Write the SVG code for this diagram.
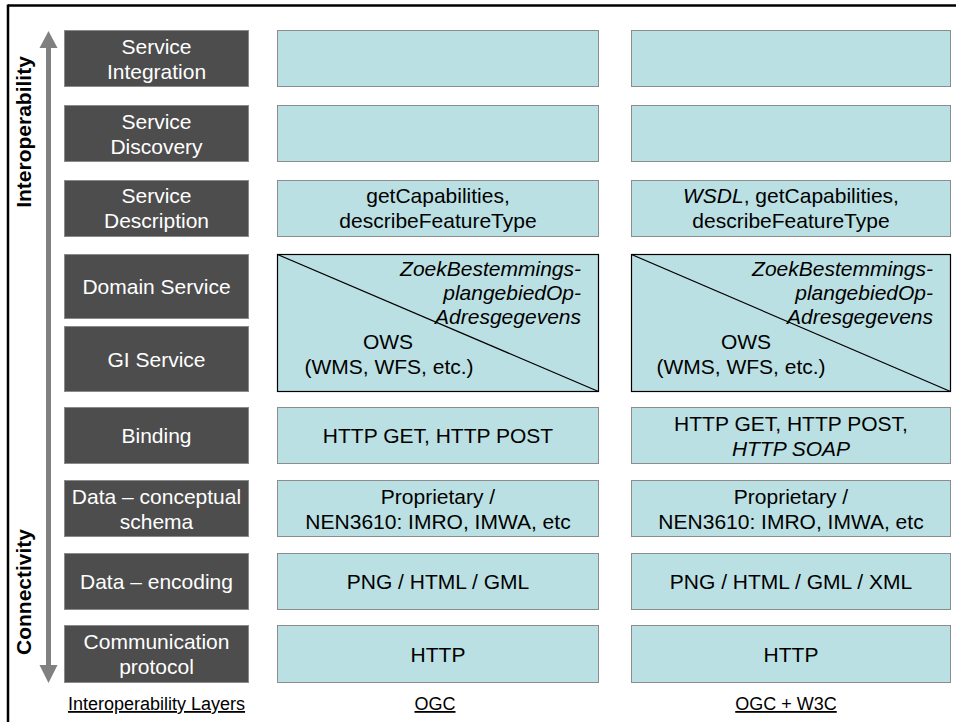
<svg xmlns="http://www.w3.org/2000/svg" width="956" height="722" viewBox="0 0 956 722">
<style>
text{font-family:"Liberation Sans",Arial,sans-serif;font-size:21px;text-anchor:middle}
.dk rect{fill:#4d4d4d;stroke:#8a8a8a;stroke-width:1}
.dk text{fill:#ffffff}
.bl rect{fill:#bbe0e3;stroke:#8c8c8c;stroke-width:1}
.bl text{fill:#000000}
.big rect{fill:#bbe0e3;stroke:#000000;stroke-width:1.2}
.big line{stroke:#000000;stroke-width:1.2}
.it{font-style:italic}
.r{text-anchor:end}
.side{font-weight:bold;fill:#000}
.foot{font-size:18px;text-decoration:underline;fill:#000}
</style>
<rect x="0" y="0" width="956" height="722" fill="#ffffff"/>
<g id="frame">
<line x1="8" y1="5.5" x2="956" y2="5.5" stroke="#000" stroke-width="2.5"/>
<line x1="8" y1="4.5" x2="8" y2="722" stroke="#000" stroke-width="2.5"/>
</g>
<g id="connectors">
<rect x="46" y="47" width="5" height="619" fill="#808080"/>
<polygon points="48.5,31 57.5,48 39.5,48" fill="#808080"/>
<polygon points="48.5,683 57.5,665 39.5,665" fill="#808080"/>
</g>
<g id="axis-labels">
<text class="side" transform="translate(31,132) rotate(-90)">Interoperability</text>
<text class="side" transform="translate(31,592) rotate(-90)">Connectivity</text>
</g>
<g id="layer-service-integration" class="dk"><rect x="64.5" y="30.5" width="184" height="56"/><text x="156.5" y="54">Service</text><text x="156.5" y="79">Integration</text></g>
<g id="layer-service-discovery" class="dk"><rect x="64.5" y="105.5" width="184" height="56"/><text x="156.5" y="129">Service</text><text x="156.5" y="154">Discovery</text></g>
<g id="layer-service-description" class="dk"><rect x="64.5" y="180.5" width="184" height="56"/><text x="156.5" y="203">Service</text><text x="156.5" y="228">Description</text></g>
<g id="layer-domain-service" class="dk"><rect x="64.5" y="254.5" width="184" height="64"/><text x="156.5" y="294">Domain Service</text></g>
<g id="layer-gi-service" class="dk"><rect x="64.5" y="326.5" width="184" height="65"/><text x="156.5" y="366.5">GI Service</text></g>
<g id="layer-binding" class="dk"><rect x="64.5" y="407.5" width="184" height="56"/><text x="156.5" y="443">Binding</text></g>
<g id="layer-data-conceptual" class="dk"><rect x="64.5" y="480.5" width="184" height="56"/><text x="156.5" y="504">Data – conceptual</text><text x="156.5" y="529">schema</text></g>
<g id="layer-data-encoding" class="dk"><rect x="64.5" y="553.5" width="184" height="56"/><text x="156.5" y="588.5">Data – encoding</text></g>
<g id="layer-communication" class="dk"><rect x="64.5" y="625.5" width="184" height="57"/><text x="156.5" y="649">Communication</text><text x="156.5" y="674">protocol</text></g>

<g id="ogc-service-integration" class="bl"><rect x="277.5" y="30.5" width="321" height="56"/></g>
<g id="ogc-service-discovery" class="bl"><rect x="277.5" y="105.5" width="321" height="56"/></g>
<g id="ogc-service-description" class="bl"><rect x="277.5" y="180.5" width="321" height="56"/><text x="438" y="203">getCapabilities,</text><text x="438" y="228">describeFeatureType</text></g>
<g id="ogc-service" class="big"><rect x="277.5" y="254.5" width="321" height="137"/><line x1="277.5" y1="254.5" x2="598.5" y2="391.5"/><text class="it r" x="581" y="276">ZoekBestemmings-</text><text class="it r" x="581" y="300">plangebiedOp-</text><text class="it r" x="581" y="324">Adresgegevens</text><text x="388" y="349">OWS</text><text x="389" y="374">(WMS, WFS, etc.)</text></g>
<g id="ogc-binding" class="bl"><rect x="277.5" y="407.5" width="321" height="56"/><text x="438" y="443">HTTP GET, HTTP POST</text></g>
<g id="ogc-data-conceptual" class="bl"><rect x="277.5" y="480.5" width="321" height="56"/><text x="438" y="504">Proprietary /</text><text x="438" y="529">NEN3610: IMRO, IMWA, etc</text></g>
<g id="ogc-data-encoding" class="bl"><rect x="277.5" y="553.5" width="321" height="56"/><text x="438" y="588.5">PNG / HTML / GML</text></g>
<g id="ogc-communication" class="bl"><rect x="277.5" y="625.5" width="321" height="57"/><text x="438" y="661.5">HTTP</text></g>

<g id="w3c-service-integration" class="bl"><rect x="631.5" y="30.5" width="319" height="56"/></g>
<g id="w3c-service-discovery" class="bl"><rect x="631.5" y="105.5" width="319" height="56"/></g>
<g id="w3c-service-description" class="bl"><rect x="631.5" y="180.5" width="319" height="56"/><text x="791" y="203"><tspan class="it">WSDL</tspan>, getCapabilities,</text><text x="791" y="228">describeFeatureType</text></g>
<g id="w3c-service" class="big"><rect x="631.5" y="254.5" width="319" height="137"/><line x1="631.5" y1="254.5" x2="950.5" y2="391.5"/><text class="it r" x="933" y="276">ZoekBestemmings-</text><text class="it r" x="933" y="300">plangebiedOp-</text><text class="it r" x="933" y="324">Adresgegevens</text><text x="746" y="349">OWS</text><text x="741" y="374">(WMS, WFS, etc.)</text></g>
<g id="w3c-binding" class="bl"><rect x="631.5" y="407.5" width="319" height="56"/><text x="791" y="431">HTTP GET, HTTP POST,</text><text class="it" x="791" y="456">HTTP SOAP</text></g>
<g id="w3c-data-conceptual" class="bl"><rect x="631.5" y="480.5" width="319" height="56"/><text x="791" y="504">Proprietary /</text><text x="791" y="529">NEN3610: IMRO, IMWA, etc</text></g>
<g id="w3c-data-encoding" class="bl"><rect x="631.5" y="553.5" width="319" height="56"/><text x="791" y="588.5">PNG / HTML / GML / XML</text></g>
<g id="w3c-communication" class="bl"><rect x="631.5" y="625.5" width="319" height="57"/><text x="791" y="661.5">HTTP</text></g>

<g id="column-labels">
<text class="foot" x="156.5" y="710">Interoperability Layers</text>
<text class="foot" x="435" y="710">OGC</text>
<text class="foot" x="786" y="710">OGC + W3C</text>
</g>
</svg>
